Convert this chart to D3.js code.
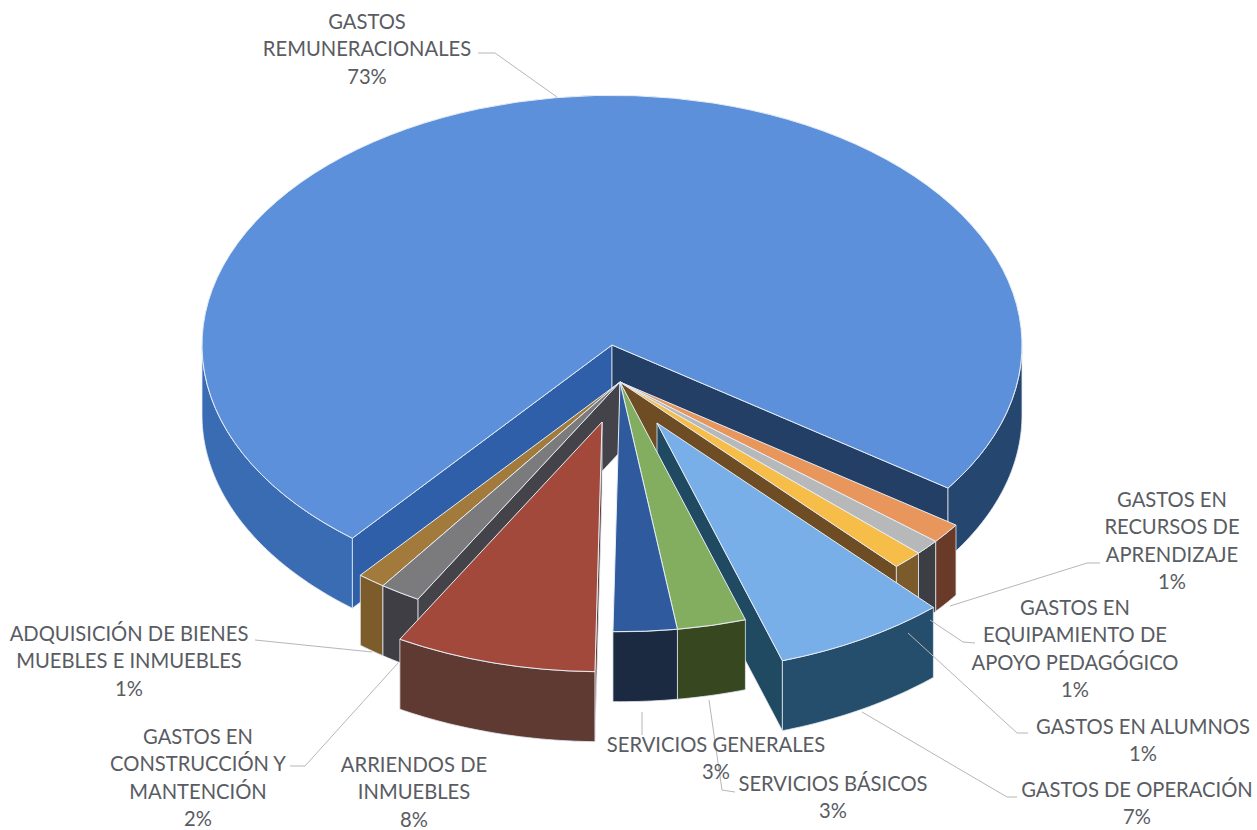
<!DOCTYPE html>
<html>
<head>
<meta charset="utf-8">
<script src="https://cdnjs.cloudflare.com/ajax/libs/d3/7.8.5/d3.min.js"></script>
<style>
  html, body { margin: 0; padding: 0; background: #fff; }
  svg { display: block; }
  text { font-family: Lato, "Open Sans", sans-serif; font-size: 20.2px; fill: #595c62; }
</style>
</head>
<body>
<div id="chart"></div>
<script>
// Chart data (clockwise from the left edge of the big slice)
const categories = [
    "GASTOS REMUNERACIONALES", "GASTOS EN RECURSOS DE APRENDIZAJE",
    "GASTOS EN EQUIPAMIENTO DE APOYO PEDAGÓGICO", "GASTOS EN ALUMNOS",
    "GASTOS DE OPERACIÓN", "SERVICIOS BÁSICOS", "SERVICIOS GENERALES",
    "ARRIENDOS DE INMUEBLES", "GASTOS EN CONSTRUCCIÓN Y MANTENCIÓN",
    "ADQUISICIÓN DE BIENES MUEBLES E INMUEBLES"
];
const shares = [73.5, 1.3, 1.0, 1.2, 6.8, 2.7, 2.5, 7.9, 1.6, 1.1];

// Slice colours: top face, outer wall, cut face
const topColors = ["#5c90da", "#e8965c", "#b6b8ba", "#f6bd48", "#79afe8", "#83ad5f", "#2f5a9e", "#a3493b", "#7b7b7d", "#a27b3c"];
const wallColors = ["#3a6cb4", "#6a3a28", "#3d3d44", "#7b5b2b", "#244e6b", "#37471f", "#1b2a40", "#5f3a33", "#3e3e44", "#7d5c2c"];
const faceColors = ["#2f5fa8", "#6a3a28", "#3d3d44", "#6e4c24", "#1f4a62", "#37471f", "#1b2a40", "#5f3a33", "#444349", "#7d5c2c"];

// How far each slice is pulled out of the pie, in pixels
const explodeX = [0, 8, 8, 8, 45, 8, 8, -10, 8, 8];
const explodeY = [0, 37, 37, 37, 78, 37, 37, 77, 37, 37];

// Paint order, back to front
const drawOrder = [0, 1, 2, 3, 9, 8, 4, 7, 5, 6];

// Label layout
const labelLines = [
    ["GASTOS", "REMUNERACIONALES", "73%"],
    ["GASTOS EN", "RECURSOS DE", "APRENDIZAJE", "1%"],
    ["GASTOS EN", "EQUIPAMIENTO DE", "APOYO PEDAGÓGICO", "1%"],
    ["GASTOS EN ALUMNOS", "1%"],
    ["GASTOS DE OPERACIÓN", "7%"],
    ["SERVICIOS BÁSICOS", "3%"],
    ["SERVICIOS GENERALES", "3%"],
    ["ARRIENDOS DE", "INMUEBLES", "8%"],
    ["GASTOS EN", "CONSTRUCCIÓN Y", "MANTENCIÓN", "2%"],
    ["ADQUISICIÓN DE BIENES", "MUEBLES E INMUEBLES", "1%"]
];
const labelX = [367, 1172, 1075, 1143, 1137, 833, 716, 414, 198, 129];
const labelY = [22, 500, 608, 727, 790, 784, 745, 765, 737, 634];
const leaders = [
    [[478, 53], [495, 53], [557, 97]],
    [[1100, 563], [1087, 563], [950, 606]],
    [[975, 643], [963, 642], [930, 620]],
    [[1028, 733], [1017, 733], [908, 633]],
    [[1017, 797], [1007, 797], [862, 712]],
    [[735, 792], [722, 790], [709, 700]],
    [[642, 735], [642, 712]],
    [],
    [[290, 766], [305, 766], [398, 663]],
    [[255, 640], [372, 652]]
];

const width = 1257, height = 830;
const cx = 612, cy = 345;      // pie centre before explosion
const radius = 410;
const tilt = 0.609;            // vertical squash of the ellipse
const depth = 70;              // wall height
const edge = "#e2e8f0";

const svg = d3.select("#chart")
    .append("svg")
    .attr("width", width)
    .attr("height", height);

const toRad = d => d * Math.PI / 180;

// d3.pie angles run clockwise from 12 o'clock, same as d3.arc
const pie = d3.pie()
    .sort(null)
    .startAngle(toRad(219.3))
    .endAngle(toRad(219.3 + 360));

const slices = pie(shares).map((d, i) => ({
    ...d,
    i: i,
    x0: cx + explodeX[i],
    y0: cy + explodeY[i]
}));

const arc = d3.arc().innerRadius(0).outerRadius(radius);

// point on the rim of slice d at angle a
const rimX = (d, a) => d.x0 + radius * Math.sin(a);
const rimY = (d, a) => d.y0 - radius * tilt * Math.cos(a);

const polyLine = d3.line().x(p => p[0]).y(p => p[1]);

// wall under the rim between angles a0 and a1
function wallPath(d, a0, a1) {
    const n = Math.max(2, Math.ceil((a1 - a0) * 60));
    const rim = d3.range(n + 1).map(k => {
        const a = a0 + (a1 - a0) * k / n;
        return [rimX(d, a), rimY(d, a)];
    });
    const lower = rim.map(p => [p[0], p[1] + depth]).reverse();
    return polyLine(rim.concat(lower)) + "Z";
}

// flat cut face from the apex to the rim at angle a
function facePath(d, a) {
    const x = rimX(d, a), y = rimY(d, a);
    return polyLine([[d.x0, d.y0], [x, y], [x, y + depth], [d.x0, d.y0 + depth]]) + "Z";
}

// parts of [start, end] lying on the front half of the ellipse
function frontParts(d) {
    const parts = [];
    [[toRad(90), toRad(270)], [toRad(450), toRad(630)]].forEach(r => {
        const a0 = Math.max(d.startAngle, r[0]);
        const a1 = Math.min(d.endAngle, r[1]);
        if (a1 > a0) parts.push([a0, a1]);
    });
    return parts;
}

const g = svg.append("g");

drawOrder.forEach(i => {
    const d = slices[i];
    const sg = g.append("g").attr("class", "slice");

    // cut faces: the one turned to the viewer only
    const startDeg = d.startAngle * 180 / Math.PI % 360;
    const endDeg = d.endAngle * 180 / Math.PI % 360;
    const faces = [];
    if (startDeg > 180) faces.push(d.startAngle);
    if (endDeg < 180) faces.push(d.endAngle);
    faces.forEach(a => {
        sg.append("path")
            .attr("d", facePath(d, a))
            .attr("fill", i === 0 && a === d.endAngle ? "#233f66" : faceColors[i])
            .attr("stroke", edge)
            .attr("stroke-width", 0.8);
    });

    // outer wall
    frontParts(d).forEach(p => {
        // the right hand part of the big slice is in shadow
        const rightSide = i === 0 && p[0] > toRad(360);
        sg.append("path")
            .attr("d", wallPath(d, p[0], p[1]))
            .attr("fill", rightSide ? "#25466f" : wallColors[i])
            .attr("stroke", edge)
            .attr("stroke-width", 0.8);
    });

    // top face
    sg.append("path")
        .attr("transform", `translate(${d.x0},${d.y0}) scale(1,${tilt})`)
        .attr("d", arc(d))
        .attr("fill", topColors[i])
        .attr("stroke", "#e6edf5")
        .attr("stroke-width", 1)
        .attr("vector-effect", "non-scaling-stroke");
});

// Leader lines
svg.append("g")
    .selectAll("path")
    .data(leaders.filter(l => l.length))
    .enter().append("path")
    .attr("d", polyLine)
    .attr("fill", "none")
    .attr("stroke", "#b4b6b8")
    .attr("stroke-width", 1);

// Labels
const lineGap = 27.6;
const labels = svg.append("g")
    .selectAll("text")
    .data(categories)
    .enter().append("text")
    .attr("text-anchor", "middle");

labels.selectAll("tspan")
    .data((d, i) => labelLines[i].map((t, k) => ({ t: t, k: k, i: i })))
    .enter().append("tspan")
    .attr("x", d => labelX[d.i])
    .attr("y", d => labelY[d.i] + d.k * lineGap)
    .attr("dy", "0.33em")
    .text(d => d.t);
</script>
</body>
</html>
